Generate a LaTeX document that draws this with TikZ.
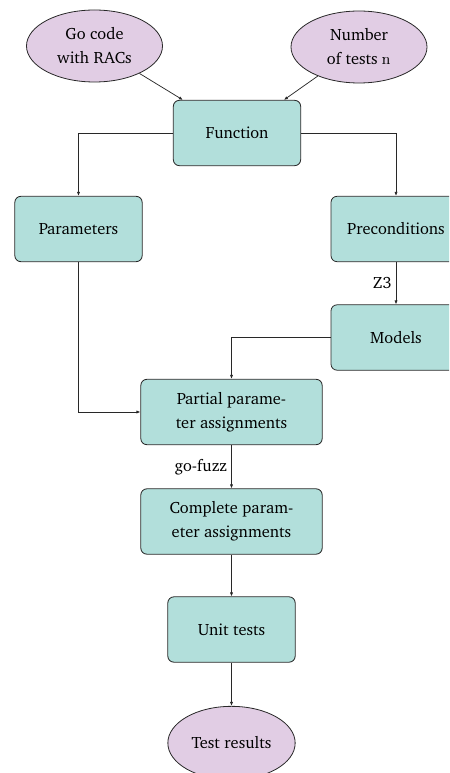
\documentclass[tikz,border=0pt]{standalone}
\usepackage[T1]{fontenc}
\usepackage{charter}
\usetikzlibrary{arrows.meta,shapes.geometric}
\definecolor{boxfill}{RGB}{178,223,219}
\definecolor{ellfill}{RGB}{225,205,228}
\definecolor{edgecol}{RGB}{40,40,40}
\tikzset{
  stepbox/.style={draw=edgecol, fill=boxfill, rounded corners=4.5pt, line width=0.6pt,
    minimum width=95.5pt, minimum height=49pt, align=center, inner sep=2pt},
  widebox/.style={stepbox, minimum width=136pt},
  databub/.style={draw=edgecol, fill=ellfill, ellipse, line width=0.6pt,
    minimum width=102pt, minimum height=54pt, align=center, inner sep=0pt},
  conn/.style={draw=edgecol, line width=0.55pt, -{Latex[length=3pt,width=2.4pt]}},
  lbl/.style={font=\fontsize{12.3}{18}\selectfont, text=black, inner sep=3pt}
}
\begin{document}
\begin{tikzpicture}[x=0.75pt,y=-0.75pt, font=\fontsize{12.3}{18}\selectfont]
\useasboundingbox (0,0) rectangle (449,773);
\begin{scope}
\clip (0,0) rectangle (449,773);
\node[databub] (go) at (94.5,46) {Go code\\with RACs};
\node[databub] (num) at (359,47) {Number\\of tests \texttt{n}};
\node[stepbox] (func) at (237,133) {Function};
\node[stepbox] (par) at (78.5,229) {Parameters};
\node[stepbox, minimum width=97.5pt] (pre) at (396,229) {Preconditions};
\node[stepbox, minimum width=97.5pt] (mod) at (396,337.5) {Models};
\node[widebox] (part) at (231.5,412) {Partial parame-\\ter assignments};
\node[widebox] (comp) at (231.5,521.5) {Complete param-\\eter assignments};
\node[stepbox] (unit) at (231.5,629.5) {Unit tests};
\node[databub, minimum width=95.5pt, minimum height=55pt] (res) at (231.5,743) {Test results};

\draw[conn] (go) -- (func);
\draw[conn] (num) -- (func);
\draw[conn] (func.west) -| (par.north);
\draw[conn] (func.east) -| (pre.north);
\draw[conn] (pre) -- node[lbl, left, pos=0.5] {Z3} (mod);
\draw[conn] (mod.west) -| (part.north);
\draw[conn] (par.south) |- (part.west);
\draw[conn] (part) -- node[lbl, left, pos=0.5] {go-fuzz} (comp);
\draw[conn] (comp) -- (unit);
\draw[conn] (unit) -- (res);
\end{scope}
\end{tikzpicture}
\end{document}
